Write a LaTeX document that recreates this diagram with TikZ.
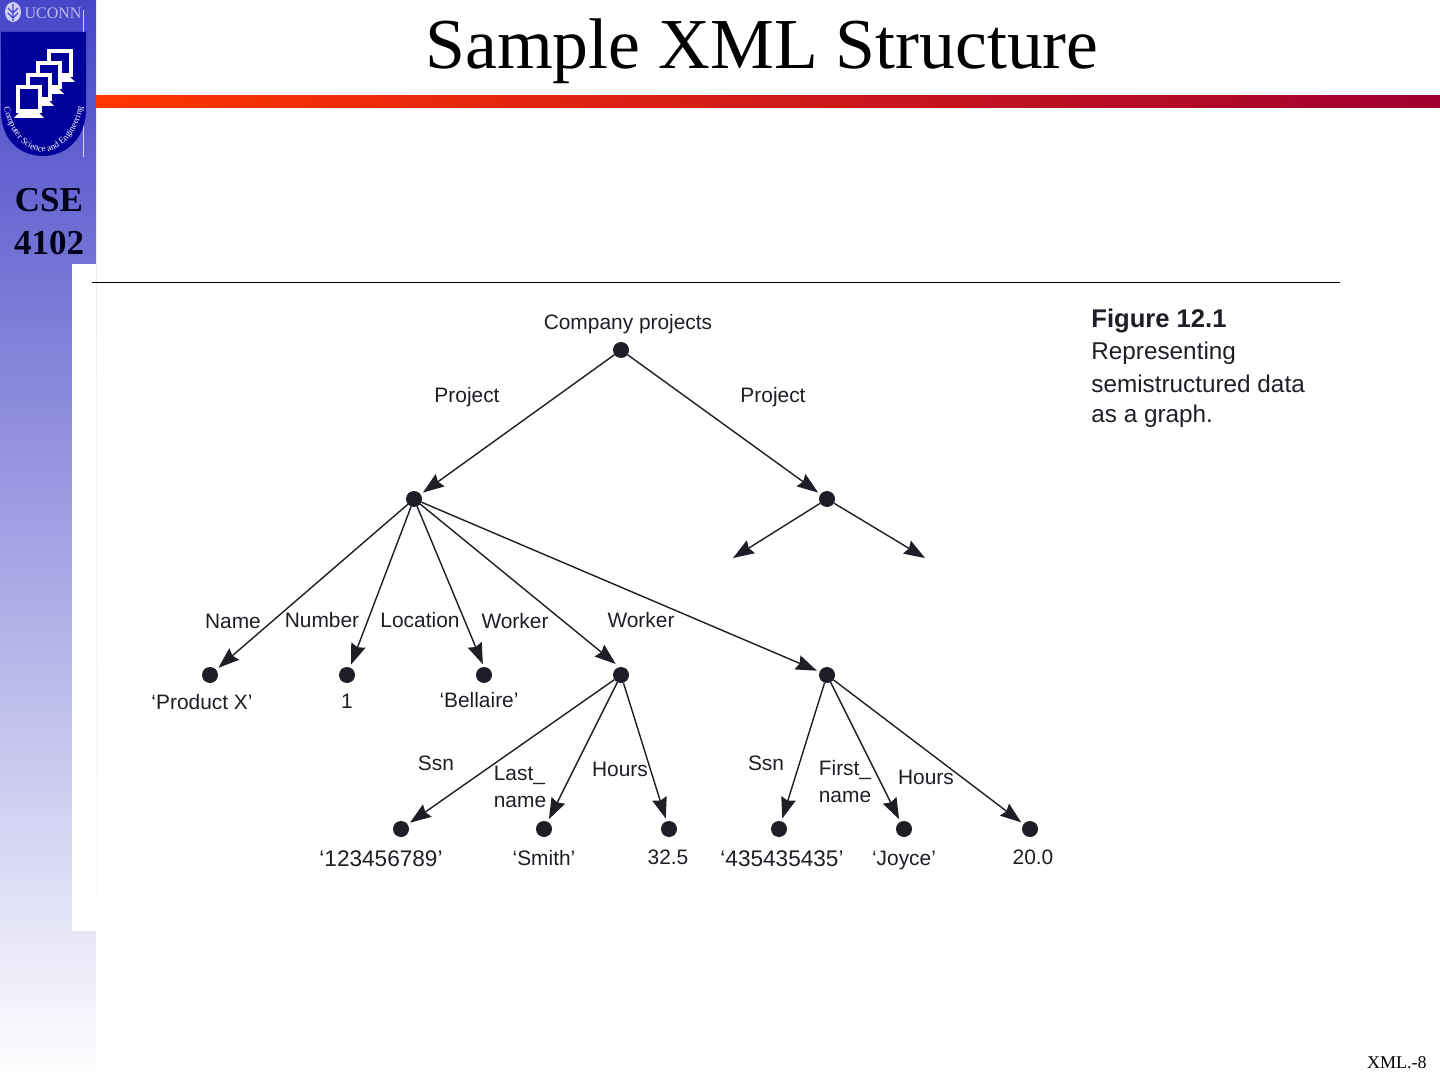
\documentclass[tikz,border=0pt]{standalone}
\usepackage{fontspec}
\setmainfont{Liberation Serif}
\setsansfont{Liberation Sans}
\usetikzlibrary{arrows.meta,decorations.text}
\definecolor{mink}{HTML}{1E1E26}
\definecolor{mnavy}{HTML}{00009A}
\definecolor{mside}{HTML}{4646C8}
\definecolor{mbarl}{HTML}{FF3600}
\definecolor{mbarr}{HTML}{A00030}
\tikzstyle{l2}=[line width=0.7pt, draw=mink]
\tikzstyle{dot}=[circle, fill=mink, minimum size=8pt, inner sep=0pt, outer sep=0pt]
\tikzstyle{edge}=[l2, -{Stealth[length=10.5pt,width=7.5pt,inset=1.2pt]}, shorten >=1.5pt]
\tikzstyle{lbl}=[font=\sffamily\fontsize{10.45}{13.5}\selectfont, text=mink, inner sep=0pt, align=left]
\tikzstyle{capt}=[font=\sffamily\fontsize{12.15}{15.7}\selectfont, text=mink, inner sep=0pt, anchor=west]
\tikzstyle{screen}=[draw=white, line width=1.6pt, fill=mnavy]
\begin{document}
\begin{tikzpicture}[x=0.5pt,y=-0.5pt]
    \useasboundingbox (0,0) rectangle (1440,1080);
    % side band and page
    \fill[white] (0,0) rectangle (1440,1080);
    \shade[top color=mside, bottom color=white] (0,0) rectangle (96,1080);
    \fill[white] (72,264) rectangle (96,931);
    \shade[left color=mbarl, right color=mbarr] (96,96) rectangle (1440,108);
    \node[font=\fontsize{35.85}{40}\selectfont, inner sep=0pt] (title) at (762,51) {Sample XML Structure};
    \node[font=\bfseries\fontsize{17.5}{21.5}\selectfont, inner sep=0pt, align=center, text=black!90!blue] (course) at (49,222) {CSE\\4102};
    \node[font=\fontsize{9}{11}\selectfont, inner sep=0pt, anchor=east] (pagenum) at (1427,1063) {XML.-8};
    \coordinate (ruleA) at (92,282.5);
    \coordinate (ruleB) at (1340,282.5);
    \draw[line width=0.9pt, black] (ruleA) -- (ruleB);

    % logo
    \draw[white!75!mside, line width=0.5pt] (83,10) -- (83,157);
    \node[font=\fontsize{8}{9}\selectfont, text=white!65!mside, inner sep=0pt] (uconn) at (53,13) {UCONN};
    \fill[white!75!mside] (13,12) ellipse (8 and 10);
    \draw[mside, line width=0.6pt] (13,4) -- (13,21) (8,8) -- (13,13) -- (18,8) (8,13) -- (13,18) -- (18,13);
    \path[fill=mnavy] (1,32) -- (86,32) -- (86,113) .. controls (84,140) and (65,156) .. (43,156) .. controls (20,156) and (2,140) .. (1,113) -- cycle;
    \begin{scope}[shift={(0,0)}]
        \foreach \mx/\my in {49/51, 38/63, 28/75, 18/87} {
            \fill[white] (\mx+2,\my+25) -- (\mx+20,\my+25) -- (\mx+26,\my+31) -- (\mx-4,\my+31) -- cycle;
            \path[screen] (\mx,\my) rectangle (\mx+22,\my+24);
        }
    \end{scope}
    \path[decorate, decoration={text along path, text align=center,
        text={|\fontsize{4.5}{5}\selectfont\color{white}|Computer Science and Engineering}}]
        (3,100) .. controls (6,130) and (24,151.5) .. (43,151.5) .. controls (62,151.5) and (81,130) .. (84,100);

    % graph
    \begin{scope}[shift={(0,0)}]
        \node (root) [dot] at (621,350) {};
        \node (projA) [dot] at (414,499) {};
        \node (projB) [dot] at (827,499) {};
        \node (name) [dot] at (210,675) {};
        \node (number) [dot] at (347,675) {};
        \node (location) [dot] at (484,675) {};
        \node (workerA) [dot] at (621,675) {};
        \node (workerB) [dot] at (827,675) {};
        \node (ssnA) [dot] at (401,829) {};
        \node (lastn) [dot] at (544,829) {};
        \node (hoursA) [dot] at (669,829) {};
        \node (ssnB) [dot] at (779,829) {};
        \node (firstn) [dot] at (904,829) {};
        \node (hoursB) [dot] at (1030,829) {};
        \coordinate (openA) at (733,558);
        \coordinate (openB) at (925,558);

        \draw[edge] (root) -- (projA);
        \draw[edge] (root) -- (projB);
        \draw[edge, shorten >=0pt] (projB) -- (openA);
        \draw[edge, shorten >=0pt] (projB) -- (openB);
        \foreach \dest in {name, number, location.north, workerB}
            \draw[edge] (projA) -- (\dest);
        \draw[edge, shorten >=2.5pt] (projA) -- (workerA.100);
        \foreach \dest in {ssnA, lastn, hoursA}
            \draw[edge] (workerA) -- (\dest);
        \foreach \dest in {ssnB, firstn, hoursB}
            \draw[edge] (workerB) -- (\dest);
    \end{scope}

    % labels
    \foreach \tag/\lx/\ly/\txt in {
        tRoot/628/324/Company projects, tProjA/467/397/Project, tProjB/773/397/Project,
        tName/233/621/Name, tNumber/322/620/Number, tLocation/420/620/Location,
        tWorkerA/515/621/Worker, tWorkerB/641/620/Worker,
        tProduct/202/702/`Product X', tOne/347/701/1, tBellaire/479/700/`Bellaire',
        tSsnA/436/763/Ssn, tHoursA/620/769/Hours, tSsnB/766/763/Ssn, tHoursB/926/777/Hours,
        tSmith/544/858/`Smith', tValA/668/857/32.5,
        tJoyce/904/860/`Joyce', tValB/1033/857/20.0}
        \node[lbl] (\tag) at (\lx,\ly) {\txt};
    \node[lbl, font=\sffamily\fontsize{11.3}{13.5}\selectfont] (tNumA) at (381,859) {`123456789'};
    \node[lbl, font=\sffamily\fontsize{11.3}{13.5}\selectfont] (tNumB) at (782,859) {`435435435'};
    \node[lbl] (tLast) at (520,787) {Last\_\\name};
    \node[lbl] (tFirst) at (845,782) {First\_\\name};

    % caption
    \node[capt, font=\sffamily\bfseries\fontsize{12.8}{15.7}\selectfont] (figno) at (1091,321) {Figure 12.1};
    \node[capt] (capA) at (1091,353) {Representing};
    \node[capt] (capB) at (1091,384) {semistructured data};
    \node[capt] (capC) at (1091,416) {as a graph.};
\end{tikzpicture}
\end{document}
